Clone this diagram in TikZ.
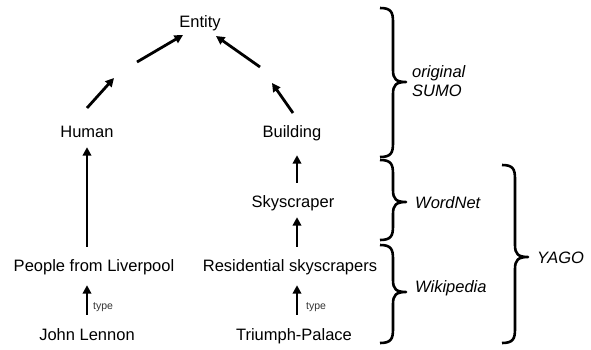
\documentclass[tikz,border=0pt]{standalone}
\usepackage{fontspec}
\setmainfont{Liberation Sans}
\usetikzlibrary{arrows.meta,calc}
\newcommand\drawcb[6]{%
  \draw[bracestyle] (#1,#4) .. controls (#2-2,#4) and (#2,#4+4) .. (#2,#4+14) -- (#2,#5-12)
    .. controls (#2,#5-3) and (#2+3,#5) .. (#3,#5) .. controls (#2+3,#5) and (#2,#5+3) .. (#2,#5+12)
    -- (#2,#6-14) .. controls (#2,#6-4) and (#2-2,#6) .. (#1,#6);}
\begin{document}
\begin{tikzpicture}[x=1pt,y=-1pt,
  lbl/.style={font=\fontsize{16.5}{19}\selectfont, inner sep=0pt, text height=12pt, text depth=3.5pt},
  srclbl/.style={font=\fontsize{16.5}{19}\selectfont\itshape, inner sep=0pt, anchor=west, align=left},
  typelbl/.style={font=\fontsize{10.5}{12}\selectfont, text=black!80, inner sep=0pt, anchor=west},
  arr/.style={line width=2.8pt, -{Triangle[length=8.5pt,width=8.5pt]}},
  bracestyle/.style={line width=2.6pt, line join=round}]
\useasboundingbox (0,0) rectangle (591,349);
\coordinate (colL) at (87,0);
\coordinate (colR) at (297,0);
% nodes
\node[lbl] (ent) at (200,23) {Entity};
\node[lbl] (hum) at (87,133) {Human};
\node[lbl] (bld) at (292,133) {Building};
\node[lbl] (sky) at (293,203) {Skyscraper};
\node[lbl] (pfl) at (94,267) {People from Liverpool};
\node[lbl] (res) at (290,267) {Residential skyscrapers};
\node[lbl] (jl) at (87,336) {John Lennon};
\node[lbl] (tp) at (294,336) {Triumph-Palace};
% diagonal split arrows
\coordinate (hA) at (87,108);
\coordinate (hB) at (114,78);
\coordinate (hC) at (137,62);
\coordinate (hD) at (183,35);
\coordinate (bA) at (293,113);
\coordinate (bB) at (272,83);
\coordinate (bC) at (260,67);
\coordinate (bD) at (216,36);
\draw[arr] (hA) -- (hB);
\draw[arr] (hC) -- (hD);
\draw[arr] (bA) -- (bB);
\draw[arr] (bC) -- (bD);
% vertical arrows
\draw[arr, shorten <=12.25pt, shorten >=6.25pt] (pfl.north -| colL) -- (hum.south -| colL);
\draw[arr, shorten <=13.25pt, shorten >=10.25pt] (jl.north -| colL) -- (pfl.south -| colL);
\draw[arr, shorten <=13.25pt, shorten >=10.25pt] (tp.north -| colR) -- (res.south -| colR);
\draw[arr, shorten <=12.25pt, shorten >=6.25pt] (res.north -| colR) -- (sky.south -| colR);
\draw[arr, shorten <=12.25pt, shorten >=14.25pt] (sky.north -| colR) -- (bld.south -| colR);
\node[typelbl] (t1) at (93,307) {type};
\node[typelbl] (t2) at (306,307) {type};
% braces
\drawcb{380}{393}{406}{8}{82}{157}
\drawcb{380}{393}{406}{160}{202}{240}
\drawcb{380}{393}{406}{245}{292}{343}
\drawcb{502}{515}{528}{165}{257}{343}
\node[srclbl] (sumo) at (412,81) {original\\SUMO};
\node[srclbl] (wn) at (415,203) {WordNet};
\node[srclbl] (wp) at (415,288) {Wikipedia};
\node[srclbl] (yago) at (537,258) {YAGO};
\end{tikzpicture}
\end{document}
